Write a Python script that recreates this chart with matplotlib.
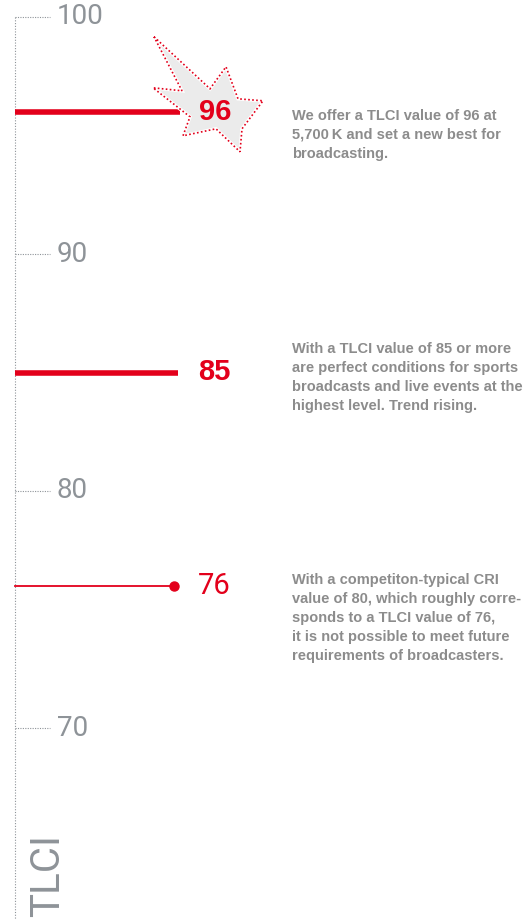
import matplotlib.pyplot as plt
import numpy as np
from matplotlib.patches import Polygon
from matplotlib.transforms import ScaledTranslation

# Data
ticks = [100, 90, 80, 70]
values = [96, 85, 76]
value_styles = ["star", "bold", "thin"]
notes = [
    "We offer a TLCI value of 96 at\n5,700\u2009K and set a new best for\nbroadcasting.",
    "With a TLCI value of 85 or more\nare perfect conditions for sports\nbroadcasts and live events at the\nhighest level. Trend rising.",
    "With a competiton-typical CRI\nvalue of 80, which roughly corre-\nsponds to a TLCI value of 76,\nit is not possible to meet future\nrequirements of broadcasters.",
]
note_tops = [109, 342, 573]  # pixel rows of the text blocks

RED = "#e3001b"
GREY = "#8e9398"
TXT = "#8c8c8c"

W, H = 529, 919
fig = plt.figure(figsize=(W / 100, H / 100), dpi=100)
ax = fig.add_axes([0, 0, 1, 1])
ax.set_axis_off()

# y scale: 100 sits at pixel row 17, 10 units = 237 px
px_per_unit = 23.7
ax.set_xlim(0, W)
ax.set_ylim(100 - (H - 17) / px_per_unit, 100 + 17 / px_per_unit)

x_axis = 14.5
light = dict(family=["Roboto", "Liberation Sans", "DejaVu Sans"], fontweight="normal")
bold = dict(family=["Liberation Sans", "DejaVu Sans"], fontweight="bold")

# vertical dotted axis
ax.plot([x_axis, x_axis], [ticks[0], ax.get_ylim()[0]], color=GREY, lw=0.8,
        ls=(0, (1, 1.5)), zorder=1)

# ticks
for t in ticks:
    ax.plot([x_axis, 50], [t, t], color=GREY, lw=0.8, ls=(0, (1, 1.2)), zorder=1)
    ax.text(57, t, str(t), color=GREY, fontsize=20, ha="left", va="center", **light)

# star shape around the 96 label (pixel offsets from its centre)
star = np.array([
    (-63, 75), (-7, 23), (9, 45), (21, 13), (46, 11), (25, -17),
    (23, -40), (-1, -17), (-34, -24), (-27, -5), (-64, 24), (-35, 21),
]) / 100.0

for v, style in zip(values, value_styles):
    if style == "star":
        ax.plot([x_axis, 180], [v, v], color=RED, lw=4.0, solid_capstyle="butt", zorder=2)
        tr = fig.dpi_scale_trans + ScaledTranslation(217, v, ax.transData)
        ax.add_patch(Polygon(star, closed=True, transform=tr, facecolor="#ebebeb",
                             edgecolor="white", lw=2.5, zorder=3))
        ax.add_patch(Polygon(star, closed=True, transform=tr, facecolor="none",
                             edgecolor=RED, lw=1.2, ls=(0, (1, 1.4)), zorder=4))
        ax.text(199, v, str(v), color=RED, fontsize=21, ha="left", va="center",
                zorder=5, **bold)
    elif style == "bold":
        ax.plot([x_axis, 178], [v, v], color=RED, lw=4.0, solid_capstyle="butt", zorder=2)
        ax.text(198, v, str(v), color=RED, fontsize=21, ha="left", va="center", **bold)
    else:
        ax.plot([x_axis, 174], [v, v], color=RED, lw=1.3, zorder=2)
        ax.plot([174], [v], "o", color=RED, ms=6.5, zorder=3)
        ax.text(198, v, str(v), color=RED, fontsize=21, ha="left", va="center", **light)

# notes on the right
for note, top in zip(notes, note_tops):
    fig.text(292 / W, 1 - top / H, note, color=TXT, fontsize=10.5, ha="left", va="top",
             linespacing=1.45, **bold)

# axis title
fig.text(48 / W, 0.002, "TLCI", color=GREY, fontsize=29, rotation=90, ha="center",
         va="bottom", **light)

fig.savefig("out.png", dpi=100)
